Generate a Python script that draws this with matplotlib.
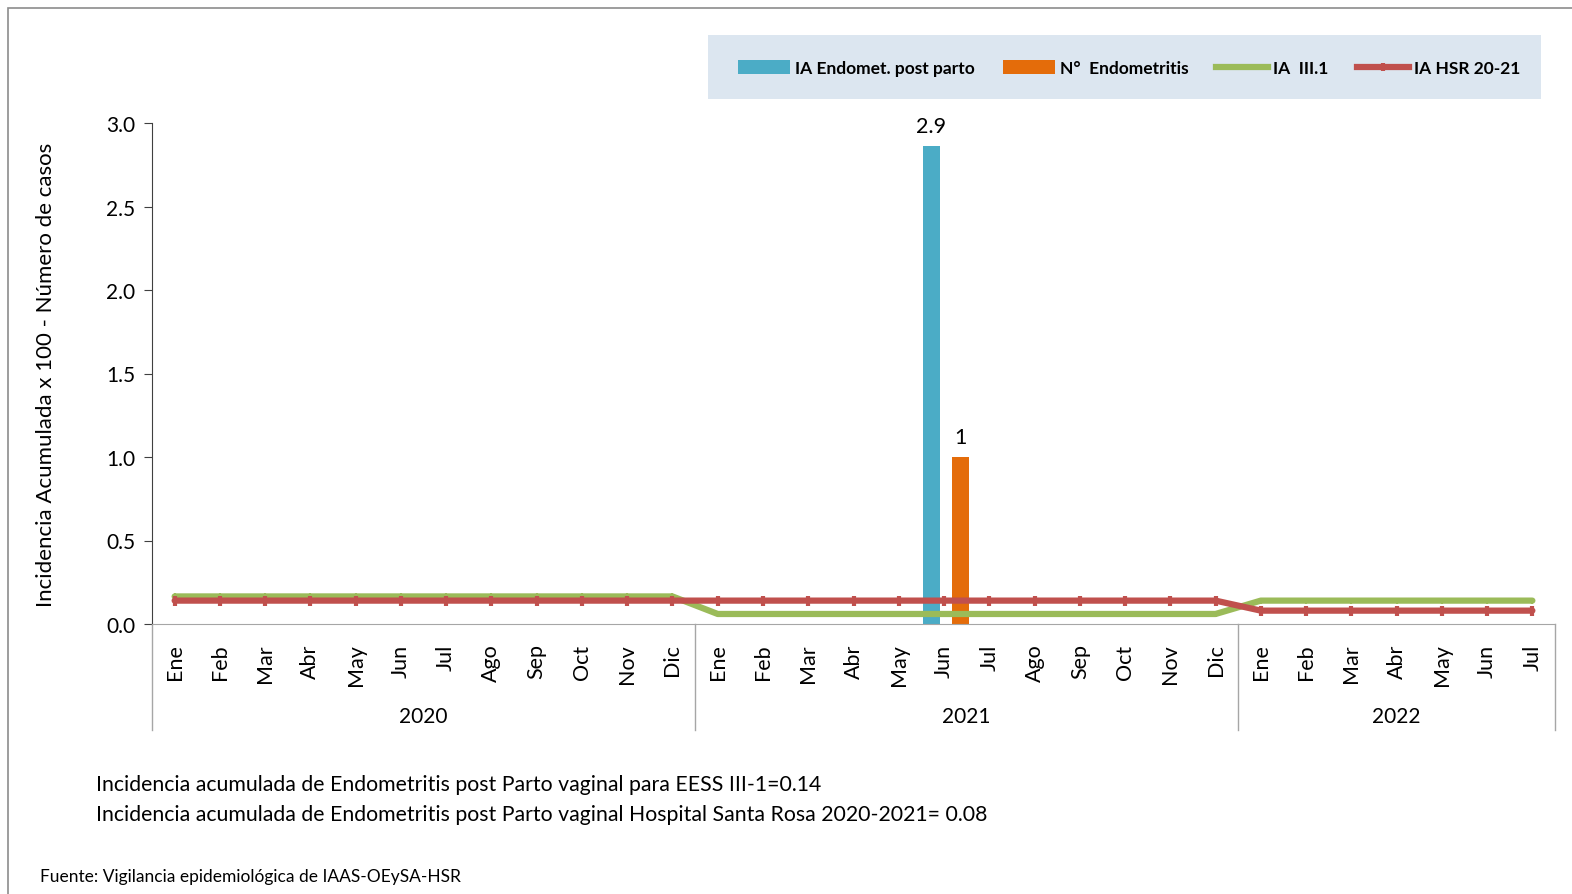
import numpy as np
import matplotlib
matplotlib.use("Agg")
import matplotlib.pyplot as plt
from matplotlib.patches import Rectangle, Patch
from matplotlib.lines import Line2D

plt.rcParams['font.family'] = ['Lato', 'DejaVu Sans']

# =============================
# DATA
# =============================
months_2020 = ["Ene", "Feb", "Mar", "Abr", "May", "Jun", "Jul", "Ago", "Sep", "Oct", "Nov", "Dic"]
months_2021 = ["Ene", "Feb", "Mar", "Abr", "May", "Jun", "Jul", "Ago", "Sep", "Oct", "Nov", "Dic"]
months_2022 = ["Ene", "Feb", "Mar", "Abr", "May", "Jun", "Jul"]
years = ["2020", "2021", "2022"]

# IA Endomet. post parto (only Jun 2021 non-zero)
ia_endomet = [0] * 12 + [0, 0, 0, 0, 0, 2.86, 0, 0, 0, 0, 0, 0] + [0] * 7
ia_endomet_label = "2.9"
# N° Endometritis
n_endomet = [0] * 12 + [0, 0, 0, 0, 0, 1, 0, 0, 0, 0, 0, 0] + [0] * 7
n_endomet_label = "1"

# IA III.1
ia_iii1 = [0.165] * 12 + [0.06] * 12 + [0.14] * 7
# IA HSR 20-21
ia_hsr = [0.14] * 12 + [0.14] * 12 + [0.08] * 7

note_lines = [
    "Incidencia acumulada de Endometritis post Parto vaginal para EESS III-1=0.14",
    "Incidencia acumulada de Endometritis post Parto vaginal Hospital Santa Rosa 2020-2021= 0.08",
]
source = "Fuente: Vigilancia epidemiológica de IAAS-OEySA-HSR"

C_BLUE = "#4bacc6"
C_ORANGE = "#e46c0a"
C_GREEN = "#9bbb59"
C_RED = "#c0504d"

# =============================
# PLOT
# =============================
fig = plt.figure(figsize=(15.72, 8.95), dpi=100)
W, H = 1572, 895


def fx(px):
    return px / W


def fy(py):
    return 1 - py / H


# outer chart border
fig.patches.append(Rectangle((fx(8), fy(905)), 1.0, fy(9) - fy(905),
                             transform=fig.transFigure, fill=False,
                             edgecolor="#8c8c8c", lw=1.2))

ax = fig.add_axes([fx(152), fy(625), fx(1555) - fx(152), fy(124) - fy(625)])

months = months_2020 + months_2021 + months_2022
x = np.arange(len(months))

bw = 0.38
ax.bar(x - 0.28, ia_endomet, width=bw, color=C_BLUE, zorder=2)
ax.bar(x + 0.36, n_endomet, width=bw, color=C_ORANGE, zorder=2)

i_peak = int(np.argmax(ia_endomet))
ax.text(i_peak - 0.28, ia_endomet[i_peak] + 0.06, ia_endomet_label,
        ha="center", va="bottom", fontsize=15.5)
i_peak2 = int(np.argmax(n_endomet))
ax.text(i_peak2 + 0.36, n_endomet[i_peak2] + 0.06, n_endomet_label,
        ha="center", va="bottom", fontsize=15.5)

ax.plot(x, ia_iii1, color=C_GREEN, lw=4.5, marker="|", ms=4, mew=1.5,
        zorder=3, solid_capstyle="round")
ax.plot(x, ia_hsr, color=C_RED, lw=4.5, marker="|", ms=6.5, mew=3,
        zorder=4, solid_capstyle="round")

ax.set_xlim(-0.5, len(months) - 0.5)
ax.set_ylim(0, 3.0)
ax.set_yticks(np.arange(0, 3.01, 0.5))
ax.set_yticklabels([f"{v:.1f}" for v in np.arange(0, 3.01, 0.5)], fontsize=15)
ax.tick_params(axis="y", length=6, color="#404040", pad=6)
ax.set_ylabel("Incidencia Acumulada x 100 - Número de casos", fontsize=16, labelpad=36)

ax.set_xticks(x)
ax.set_xticklabels(months, rotation=90, fontsize=15.5, va="top")
ax.tick_params(axis="x", length=0, pad=14)

for s in ["top", "right"]:
    ax.spines[s].set_visible(False)
ax.spines["left"].set_color("#404040")
ax.spines["bottom"].set_color("#a6a6a6")

# year group separators and labels
trans = ax.get_xaxis_transform()
bounds = [-0.5, 11.5, 23.5, len(months) - 0.5]
for b in bounds:
    ax.plot([b, b], [0, -0.212], transform=trans, color="#a6a6a6",
            lw=1, clip_on=False)
for k, yr in enumerate(years):
    ax.text((bounds[k] + bounds[k + 1]) / 2, -0.184, yr, transform=trans,
            ha="center", va="center", fontsize=15)

# legend
fig.patches.append(Rectangle((fx(708), fy(100)), fx(1541) - fx(708), fy(36) - fy(100),
                             transform=fig.transFigure, facecolor="#dce6f0",
                             edgecolor="none"))
handles = [
    Patch(facecolor=C_BLUE, edgecolor="none"),
    Patch(facecolor=C_ORANGE, edgecolor="none"),
    Line2D([], [], color=C_GREEN, lw=4.5, marker="|", ms=3, mew=1.5),
    Line2D([], [], color=C_RED, lw=4.5, marker="|", ms=6, mew=3),
]
labels = ["IA Endomet. post parto", "N°  Endometritis", "IA  III.1", "IA HSR 20-21"]
fig.legend(handles, labels, loc="center", bbox_to_anchor=(fx(1129), fy(69)),
           ncol=4, frameon=False, prop={"weight": "bold", "size": 12.5},
           handlelength=3.0, handleheight=0.9, handletextpad=0.3,
           columnspacing=1.6)

# notes
fig.text(fx(96), fy(785), note_lines[0], fontsize=15.3, va="center", ha="left")
fig.text(fx(96), fy(815), note_lines[1], fontsize=15.3, va="center", ha="left")
fig.text(fx(40), fy(877), source, fontsize=12.5, va="center", ha="left")

fig.savefig("out.png", dpi=100)
